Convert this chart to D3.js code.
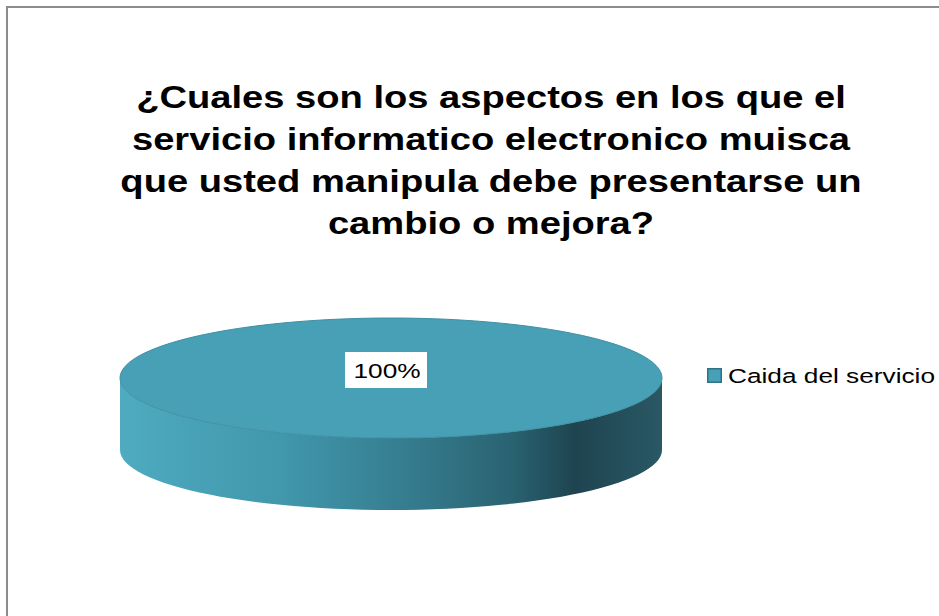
<!DOCTYPE html>
<html>
<head>
<meta charset="UTF-8">
<title>index.html</title>
<script src="https://cdn.jsdelivr.net/npm/d3@7"></script>
<style>
 body { margin:0; background:#fff; }
</style>
</head>
<body>
<svg width="939" height="616"></svg>
<script>
// chart data
const categories = ["Caida del servicio"];
const values = [100];
const titleLines = [
  "¿Cuales son los aspectos en los que el",
  "servicio informatico electronico muisca",
  "que usted manipula debe presentarse un",
  "cambio o mejora?"
];

var svg = d3.select("svg");
var stretch = 1.23; // the picture's text is wider than the font's own shapes

// outer frame (cut by the window on right / bottom)
svg.append("rect")
  .attr("x", 7).attr("y", 7)
  .attr("width", 960).attr("height", 640)
  .style("fill", "white").style("stroke", "#8c8c8c").style("stroke-width", 2);

// title
var title = svg.append("text")
  .attr("text-anchor", "middle")
  .attr("transform", "translate(491,0) scale(" + stretch + ",1)")
  .style("font-family", "'Liberation Sans', Arial, sans-serif")
  .style("font-weight", "bold")
  .style("font-size", "31px")
  .style("fill", "#000");
titleLines.forEach(function(t, i) {
  title.append("tspan").attr("x", 0).attr("y", 108 + i * 42).text(t);
});

// 3d pie
var cx = 391, cy = 378, rx = 271, ry = 60, depth = 72;
var pie = d3.pie().sort(null)(values);
var color = d3.scaleOrdinal().domain(categories).range(["#47a0b6"]);

var defs = svg.append("defs");
var grad = defs.append("linearGradient").attr("id", "side")
  .attr("x1", "0%").attr("x2", "100%").attr("y1", "0%").attr("y2", "0%");
[[0, "#4eabc0"], [0.3, "#4197ac"], [0.55, "#347a8c"], [0.72, "#2a6372"], [0.84, "#1e4450"], [1, "#2a5865"]]
  .forEach(function(s) { grad.append("stop").attr("offset", s[0]).attr("stop-color", s[1]); });

function pt(a, dy) {
  // a measured clockwise from 12 o'clock like d3.arc
  return [cx + rx * Math.sin(a), cy - ry * Math.cos(a) + (dy || 0)];
}

var g = svg.append("g");
pie.forEach(function(d) {
  // visible wall: front half (angles between PI/2 and 3PI/2)
  var a0 = Math.max(d.startAngle, Math.PI / 2), a1 = Math.min(d.endAngle, 3 * Math.PI / 2);
  if (a1 > a0) {
    var p = d3.path();
    var n = 60, i, q;
    q = pt(a0); p.moveTo(q[0], q[1]);
    for (i = 1; i <= n; i++) { q = pt(a0 + (a1 - a0) * i / n); p.lineTo(q[0], q[1]); }
    for (i = n; i >= 0; i--) { q = pt(a0 + (a1 - a0) * i / n, depth); p.lineTo(q[0], q[1]); }
    p.closePath();
    g.append("path").attr("d", p.toString()).style("fill", "url(#side)");
  }
});
pie.forEach(function(d) {
  var p = d3.path(), n = 120, i, q;
  var full = d.endAngle - d.startAngle >= 2 * Math.PI - 1e-6;
  if (!full) p.moveTo(cx, cy);
  for (i = 0; i <= n; i++) {
    q = pt(d.startAngle + (d.endAngle - d.startAngle) * i / n);
    if (i === 0 && full) p.moveTo(q[0], q[1]); else p.lineTo(q[0], q[1]);
  }
  p.closePath();
  g.append("path").attr("d", p.toString())
    .style("fill", color(categories[d.index]))
    .style("stroke", "#3f8fa3").style("stroke-width", 1);
});

// data label
pie.forEach(function(d) {
  var total = d3.sum(values);
  var txt = Math.round(d.value / total * 100) + "%";
  var lab = g.append("g");
  lab.append("rect").attr("x", 345).attr("y", 352)
    .attr("width", 82).attr("height", 36).style("fill", "white");
  lab.append("text")
    .attr("transform", "translate(387,378) scale(1.25,1)")
    .attr("text-anchor", "middle")
    .style("font-family", "'Liberation Sans', Arial, sans-serif")
    .style("font-size", "21px").text(txt);
});

// legend
var leg = svg.append("g").attr("transform", "translate(707,368)");
categories.forEach(function(c, i) {
  leg.append("rect").attr("x", 0.75).attr("y", 0.75 + i * 26).attr("width", 13.5).attr("height", 13.5)
    .style("fill", color(c)).style("stroke", "#2f7486").style("stroke-width", 1.5);
  leg.append("text").attr("transform", "translate(21," + (14.5 + i * 26) + ") scale(1.28,1)")
    .style("font-family", "'Liberation Sans', Arial, sans-serif")
    .style("font-size", "20.5px").text(c);
});
</script>
</body>
</html>
